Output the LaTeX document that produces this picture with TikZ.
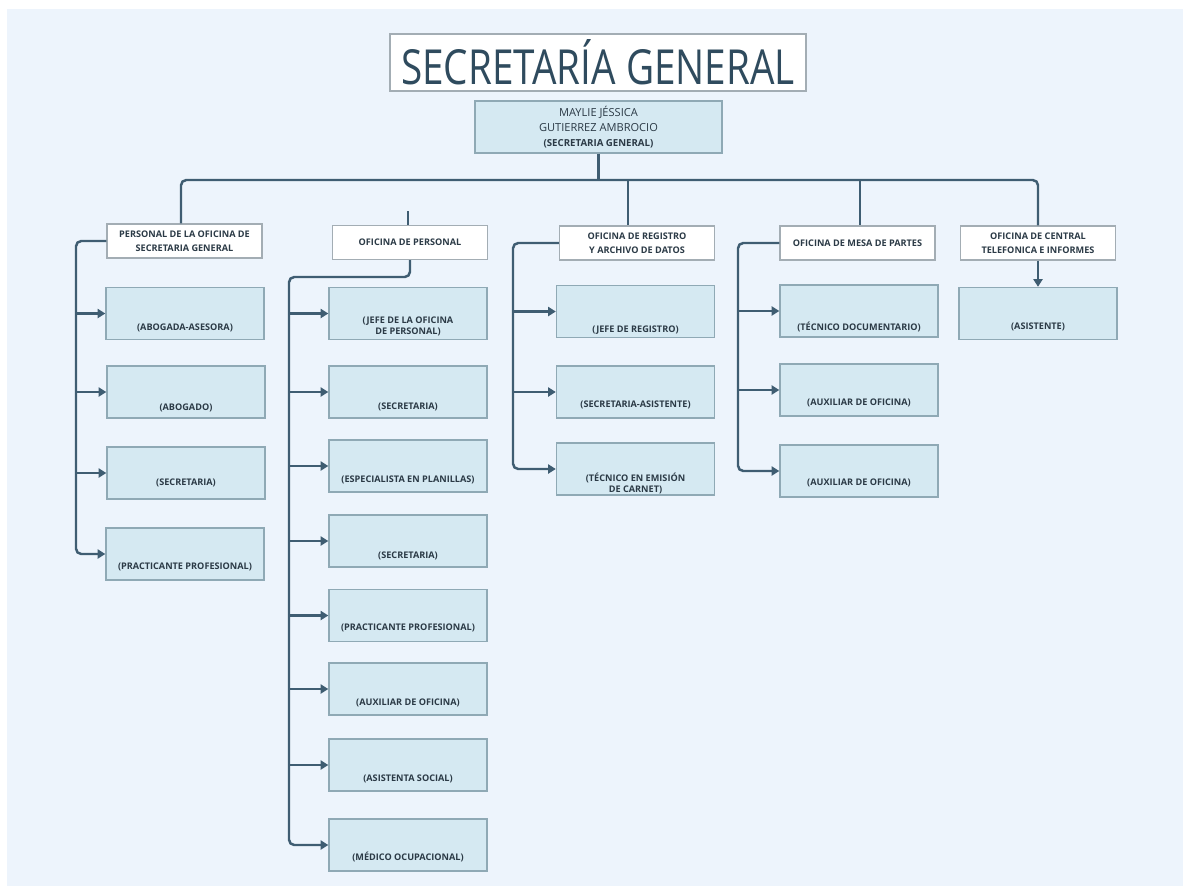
\documentclass[tikz,border=0pt]{standalone}
\usepackage{fontspec}
\setmainfont{Open Sans}
\newfontfamily\titlefont[FakeStretch=0.8]{Open Sans}
\usetikzlibrary{arrows.meta}

\definecolor{bgcol}{HTML}{EDF4FC}
\definecolor{linecol}{HTML}{3F5D72}
\definecolor{leaffill}{HTML}{D5E9F2}
\definecolor{leafline}{HTML}{8FA9B5}
\definecolor{headline}{HTML}{A3ADB4}
\definecolor{txtcol}{HTML}{2B3A46}
\definecolor{titlecol}{HTML}{2F4B5E}

\tikzset{
  conn/.style={draw=linecol, line width=1.4pt, rounded corners=3pt},
  arr/.style={conn, -{Triangle[length=4.4pt,width=5.2pt]}},
  leaf/.style={draw=leafline, fill=leaffill, line width=0.8pt,
    minimum width=3.16cm, minimum height=1.04cm, inner sep=0pt},
  head/.style={draw=headline, fill=white, line width=0.8pt,
    minimum width=3.1cm, minimum height=0.68cm, inner sep=0pt, align=center,
    text=txtcol, font=\fontsize{5.2}{8}\selectfont\bfseries},
  lbl/.style={inner sep=0pt, align=center, text=txtcol,
    font=\fontsize{5.2}{6.2}\selectfont\bfseries},
}

\begin{document}
\begin{tikzpicture}[x=0.02cm, y=-0.02cm]
  \useasboundingbox (0,0) rectangle (1183,886);
  \fill[white] (0,0) rectangle (1183,886);
  \fill[bgcol] (7,9) rectangle (1183,886);

  % title and head of office
  \node[draw=headline, fill=white, line width=1.1pt, minimum width=8.32cm,
    minimum height=1.02cm, text=titlecol, font=\titlefont\fontsize{27.5}{30}\selectfont]
    (title) at (598,62.5) {SECRETARÍA GENERAL};
  \node[leaf, minimum width=4.94cm, align=center, text=txtcol,
    font=\fontsize{6.3}{8.5}\selectfont]
    (jefa) at (598.5,127) {MAYLIE JÉSSICA\\GUTIERREZ AMBROCIO\\
    {\bfseries\fontsize{5.5}{8.5}\selectfont(SECRETARIA GENERAL)}};

  % offices
  \node[head] (h1) at (184.5,241) {PERSONAL DE LA OFICINA DE\\SECRETARIA GENERAL};
  \node[head] (h2) at (410,242.5) {OFICINA DE PERSONAL};
  \node[head] (h3) at (637,243) {OFICINA DE REGISTRO\\Y ARCHIVO DE DATOS};
  \node[head] (h4) at (857.5,243) {OFICINA DE MESA DE PARTES};
  \node[head] (h5) at (1038,243) {OFICINA DE CENTRAL\\TELEFONICA E INFORMES};

  % staff of the general secretariat
  \node[leaf] (a1) at (185,313.5) {};
  \node[leaf] (a2) at (186,392) {};
  \node[leaf] (a3) at (186,473) {};
  \node[leaf] (a4) at (185,554) {};
  \node[lbl] (a1t) at (185,328) {(ABOGADA-ASESORA)};
  \node[lbl] (a2t) at (186,408) {(ABOGADO)};
  \node[lbl] (a3t) at (186,483) {(SECRETARIA)};
  \node[lbl] (a4t) at (185,567) {(PRACTICANTE PROFESIONAL)};

  % personnel office
  \node[leaf] (b1) at (408,313.5) {};
  \node[leaf] (b2) at (408,392) {};
  \node[leaf] (b3) at (408,466) {};
  \node[leaf] (b4) at (408,541) {};
  \node[leaf] (b5) at (408,615.5) {};
  \node[leaf] (b6) at (408,689) {};
  \node[leaf] (b7) at (408,765) {};
  \node[leaf] (b8) at (408,845) {};
  \node[lbl] (b1t) at (408,326.5) {(JEFE DE LA OFICINA\\DE PERSONAL)};
  \node[lbl] (b2t) at (408,407) {(SECRETARIA)};
  \node[lbl] (b3t) at (408,480) {(ESPECIALISTA EN PLANILLAS)};
  \node[lbl] (b4t) at (408,556) {(SECRETARIA)};
  \node[lbl] (b5t) at (408,628) {(PRACTICANTE PROFESIONAL)};
  \node[lbl] (b6t) at (408,703) {(AUXILIAR DE OFICINA)};
  \node[lbl] (b7t) at (408,779) {(ASISTENTA SOCIAL)};
  \node[lbl] (b8t) at (408,857) {(MÉDICO OCUPACIONAL)};

  % records office
  \node[leaf] (c1) at (635.5,311.5) {};
  \node[leaf] (c2) at (635.5,392) {};
  \node[leaf] (c3) at (635.5,469) {};
  \node[lbl] (c1t) at (635.5,330) {(JEFE DE REGISTRO)};
  \node[lbl] (c2t) at (635.5,405) {(SECRETARIA-ASISTENTE)};
  \node[lbl] (c3t) at (635.5,483.5) {(TÉCNICO EN EMISIÓN\\DE CARNET)};

  % reception office
  \node[leaf] (d1) at (859,311) {};
  \node[leaf] (d2) at (859,390) {};
  \node[leaf] (d3) at (859,471) {};
  \node[lbl] (d1t) at (859,327) {(TÉCNICO DOCUMENTARIO)};
  \node[lbl] (d2t) at (859,403) {(AUXILIAR DE OFICINA)};
  \node[lbl] (d3t) at (859,483) {(AUXILIAR DE OFICINA)};

  % switchboard
  \node[leaf] (e1) at (1038,313.5) {};
  \node[lbl] (e1t) at (1038,327) {(ASISTENTE)};

  % main bar
  \coordinate (barL) at (181,180);
  \coordinate (barR) at (1038,180);
  \coordinate (drop3) at (628,180);
  \coordinate (drop4) at (860,180);
  \coordinate (stub) at (408,211);
  \draw[conn] (jefa.south) -- (jefa.south |- barL);
  \draw[conn] (barL |- h1.north) -- (barL) -- (barR) -- (h5.north);
  \draw[conn] (drop3) -- (drop3 |- h3.north);
  \draw[conn] (drop4) -- (drop4 |- h4.north);
  \draw[conn] (stub) -- (stub |- h2.north);

  % branches
  \coordinate (g1) at (76,241);
  \draw[arr] (h1.west) -- (g1) -- (g1 |- a4.west) -- (a4.west);
  \draw[arr] (g1 |- a1.west) -- (a1.west);
  \draw[arr] (g1 |- a2.west) -- (a2.west);
  \draw[arr] (g1 |- a3.west) -- (a3.west);

  \coordinate (g2) at (289,277);
  \draw[arr] (h2.south) -- (h2.south |- g2) -- (g2) -- (g2 |- b8.west) -- (b8.west);
  \draw[arr] (g2 |- b1.west) -- (b1.west);
  \draw[arr] (g2 |- b2.west) -- (b2.west);
  \draw[arr] (g2 |- b3.west) -- (b3.west);
  \draw[arr] (g2 |- b4.west) -- (b4.west);
  \draw[arr] (g2 |- b5.west) -- (b5.west);
  \draw[arr] (g2 |- b6.west) -- (b6.west);
  \draw[arr] (g2 |- b7.west) -- (b7.west);

  \coordinate (g3) at (513,243);
  \draw[arr] (h3.west) -- (g3) -- (g3 |- c3.west) -- (c3.west);
  \draw[arr] (g3 |- c1.west) -- (c1.west);
  \draw[arr] (g3 |- c2.west) -- (c2.west);

  \coordinate (g4) at (738,243);
  \draw[arr] (h4.west) -- (g4) -- (g4 |- d3.west) -- (d3.west);
  \draw[arr] (g4 |- d1.west) -- (d1.west);
  \draw[arr] (g4 |- d2.west) -- (d2.west);

  \draw[arr] (h5.south) -- (e1.north);
\end{tikzpicture}
\end{document}
